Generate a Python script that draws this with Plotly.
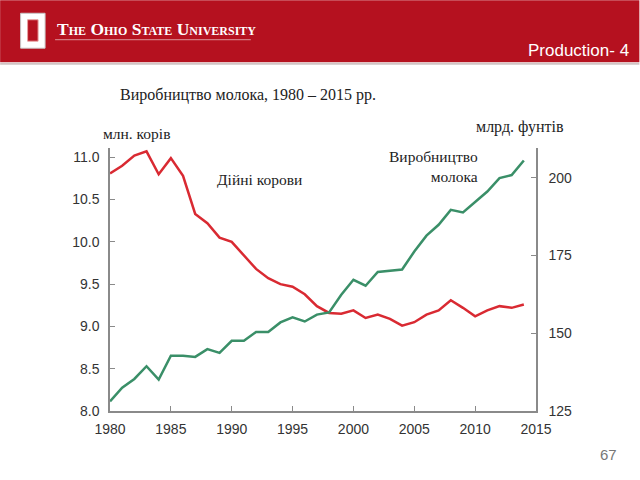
import plotly.graph_objects as go

years = list(range(1980, 2015))
cows_mln = [10.81, 10.90, 11.02, 11.07, 10.80, 10.99, 10.78, 10.33, 10.22, 10.05,
            10.00, 9.84, 9.68, 9.57, 9.50, 9.47, 9.38, 9.24, 9.16, 9.15,
            9.19, 9.10, 9.14, 9.09, 9.01, 9.05, 9.14, 9.19, 9.31, 9.22,
            9.12, 9.19, 9.24, 9.22, 9.26]
milk_bln_lb = [128.1, 132.5, 135.3, 139.4, 135.1, 142.8, 142.8, 142.4, 144.9, 143.7,
               147.6, 147.6, 150.4, 150.4, 153.5, 155.1, 153.8, 156.0, 156.7, 162.4,
               167.2, 165.3, 169.7, 170.1, 170.5, 176.3, 181.4, 184.9, 189.7, 188.9,
               192.4, 195.6, 199.9, 200.9, 205.6]
x_ticks = [1980, 1985, 1990, 1995, 2000, 2005, 2010, 2015]
left_ticks = [8.0, 8.5, 9.0, 9.5, 10.0, 10.5, 11.0]
right_ticks = [125, 150, 175, 200]

W, H = 640, 480
L, R, T, B = 110, 536.5, 148, 411.5
PW, PH = R - L, B - T


def px(x):
    return (x - L) / PW


def py(y):
    return (B - y) / PH


RED = "#d92a32"
GREEN = "#3a8f68"
BAND = "#b5111f"
TICKC = "#333333"
AXC = "#8a8a8a"

fig = go.Figure()
fig.add_trace(go.Scatter(x=years, y=cows_mln, mode="lines",
                         line=dict(color=RED, width=2.5), yaxis="y", showlegend=False))
fig.add_trace(go.Scatter(x=years, y=milk_bln_lb, mode="lines",
                         line=dict(color=GREEN, width=2.5), yaxis="y2", showlegend=False))

tickfont = dict(family="Liberation Sans, Arial", size=14, color=TICKC)

fig.update_layout(
    width=W, height=H,
    margin=dict(l=L, r=W - R, t=T, b=H - B, pad=0),
    paper_bgcolor="white", plot_bgcolor="white",
    xaxis=dict(range=[1980, 2015], tickvals=x_ticks, showgrid=False, zeroline=False,
               showline=True, linecolor=AXC, linewidth=1.5, ticks="inside", ticklen=5,
               tickcolor=AXC, tickfont=tickfont, ticklabelstandoff=4),
    yaxis=dict(range=[8.0, 11.11], tickvals=left_ticks, tickformat=".1f", showgrid=False,
               zeroline=False, showline=True, linecolor=AXC, linewidth=1.5, ticks="inside",
               ticklen=5, tickcolor=AXC, tickfont=tickfont, ticklabelstandoff=6),
    yaxis2=dict(range=[125, 209.6], tickvals=right_ticks, overlaying="y", side="right",
                showgrid=False, zeroline=False, showline=True, linecolor=AXC, linewidth=1.5,
                ticks="inside", ticklen=5, tickcolor=AXC, tickfont=tickfont,
                ticklabelstandoff=8),
)

shapes = []
# header band
shapes.append(dict(type="rect", xref="paper", yref="paper", x0=px(0), x1=px(W),
                   y0=py(62), y1=py(0), fillcolor=BAND, line_width=0, layer="above"))
shapes.append(dict(type="line", xref="paper", yref="paper", x0=px(0), x1=px(W),
                   y0=py(63.5), y1=py(63.5), line=dict(color="#d0c4c4", width=2)))
# logo block O
shapes.append(dict(type="rect", xref="paper", yref="paper", x0=px(20.5), x1=px(45),
                   y0=py(48), y1=py(13), fillcolor="white",
                   line=dict(color="#c8c8c8", width=1)))
shapes.append(dict(type="rect", xref="paper", yref="paper", x0=px(27.5), x1=px(38),
                   y0=py(41), y1=py(19.5), fillcolor=BAND, line=dict(color="#e8a0a0", width=1)))
# underline
shapes.append(dict(type="line", xref="paper", yref="paper", x0=px(55), x1=px(251),
                   y0=py(39.5), y1=py(39.5), line=dict(color="rgba(255,255,255,0.55)", width=1)))
fig.update_layout(shapes=shapes)

serif = "Liberation Serif, Times New Roman, serif"
ann = [
    dict(text="The Ohio State University", x=px(55), y=py(28.5), xanchor="left", yanchor="middle",
         font=dict(family=serif, size=17.5, color="white", weight="bold", variant="small-caps")),
    dict(text="Production- 4", x=px(632), y=py(50), xanchor="right", yanchor="middle",
         font=dict(family="Liberation Sans, Arial", size=17, color="white")),
    dict(text="Виробництво молока, 1980 – 2015 рр.", x=px(118), y=py(95), xanchor="left",
         yanchor="middle", font=dict(family=serif, size=16, color="#222222")),
    dict(text="млн. корів", x=px(101), y=py(133), xanchor="left", yanchor="middle",
         font=dict(family=serif, size=15.5, color="#222222")),
    dict(text="млрд. фунтів", x=px(474), y=py(127), xanchor="left", yanchor="middle",
         font=dict(family=serif, size=16, color="#222222")),
    dict(text="Дійні корови", x=px(215), y=py(180), xanchor="left", yanchor="middle",
         font=dict(family=serif, size=15.5, color="#222222")),
    dict(text="Виробництво<br>молока", x=px(480), y=py(167), xanchor="right", yanchor="middle",
         align="right", font=dict(family=serif, size=15.5, color="#222222")),
    dict(text="67", x=px(620), y=py(455), xanchor="right", yanchor="middle",
         font=dict(family="Liberation Sans, Arial", size=15, color="#777777")),
]
for a in ann:
    a.update(xref="paper", yref="paper", showarrow=False)
fig.update_layout(annotations=ann)

fig.write_html("out.html", config={"displayModeBar": False},
               post_script="document.body.style.margin='0';")
